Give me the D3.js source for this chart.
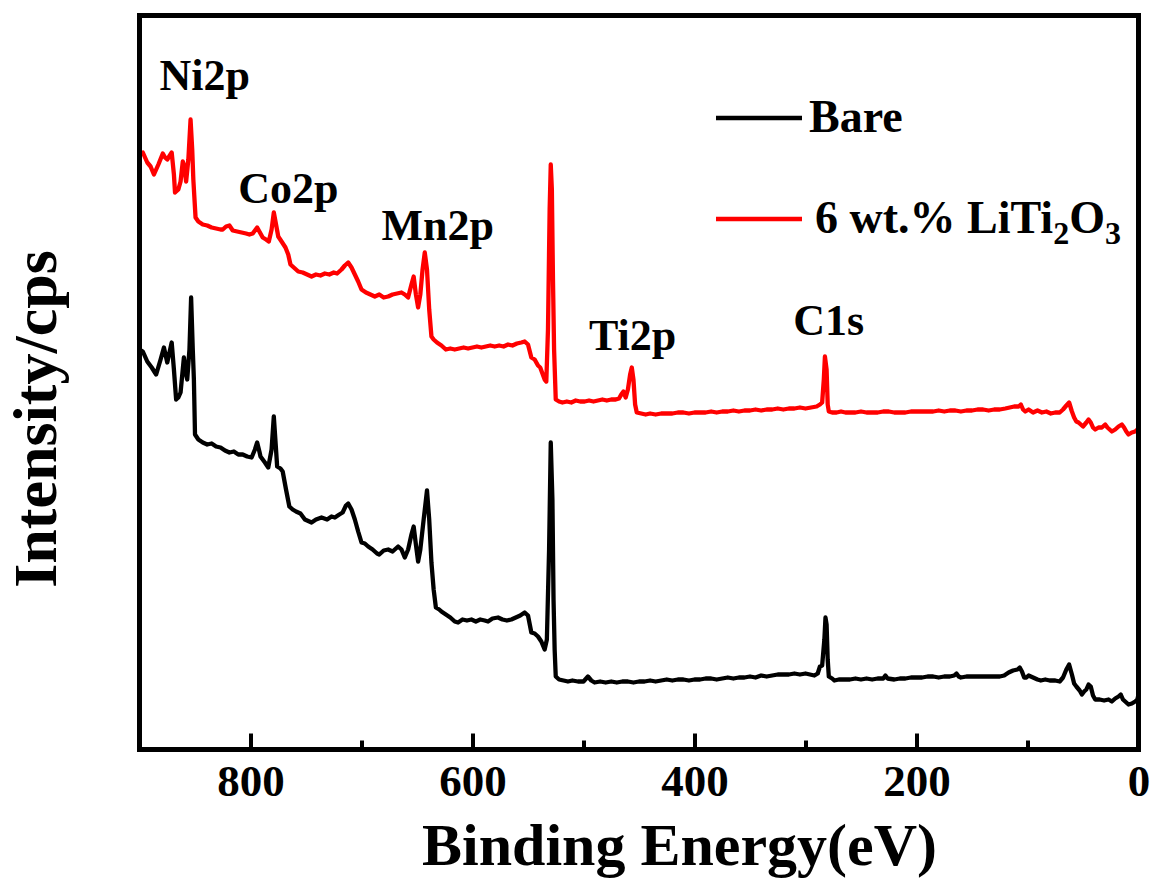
<!DOCTYPE html>
<html>
<head>
<meta charset="utf-8">
<script src="https://cdn.jsdelivr.net/npm/d3@7"></script>
<style>
  html, body { margin: 0; padding: 0; background: #fff; }
  svg { display: block; }
  text { font-family: "Liberation Serif", "Times New Roman", Times, serif; font-weight: bold; fill: #000; }
</style>
</head>
<body>
<svg id="chart" width="1154" height="879"></svg>
<script>
// ---- Data (binding energy in eV, intensity in arbitrary cps units, stacked offsets) ----
const bareSpectrum = [
  [900,400],[897,398],[893,388],[889,382],[885,375],[881,390],[878,402],[875,387],[871,407],[869,380],[867,350],[865,352],[863,357],[860,392],[858,375],[857,370],[855,400],[853.5,452],[852,400],[851,370],[850,315],[847,310],[843,307],[839,305],[835,306],[831,303],[827,302],[823,299],[819,297],[815,298],[811,295],[807,295],[803,293],[799,292],[796,300],[794,307],[792,298],[791,293],[787,287],[784,282],[781,300],[779,333],[777,300],[776,283],[773,281],[771,278],[768,260],[765,243],[762,240],[759,238],[755,236],[751,230],[747,228],[745,227],[741,230],[736,232],[731,230],[727,233],[724,232],[720,235],[717,237],[714,244],[712,246],[709,240],[706,230],[703,218],[700,207],[697,206],[694,203],[690,200],[686,196],[684,195],[680,199],[676,200],[672,198],[667,203],[664,200],[661,192],[658,200],[655,215],[653,223],[651,205],[649,188],[647,200],[644,230],[641,259],[639,230],[637,187],[635,160],[633,142],[630,140],[628,138],[624,135],[620,132],[616,128],[613,127],[609,130],[605,129],[601,130],[597,128],[593,130],[589,129],[586,128],[582,131],[577,132],[573,130],[569,129],[565,130],[561,132],[557,134],[553,137],[550,134],[547,117],[544,116],[541,113],[538,108],[535,100],[533,110],[531,200],[529.5,307],[528,250],[527,150],[526,100],[525,73],[522,70],[518,69],[514,68],[510,69],[505,68],[500,68],[496,73],[493,69],[490,67],[485,68],[480,67],[475,68],[470,67],[465,68],[460,68],[455,67],[450,68],[445,68],[440,69],[435,68],[430,69],[425,70],[420,69],[415,70],[410,70],[405,69],[400,70],[395,70],[390,71],[385,71],[380,70],[375,71],[370,72],[365,71],[360,72],[355,72],[350,73],[345,72],[340,74],[335,73],[330,74],[325,75],[320,75],[315,75],[310,76],[305,75],[300,76],[296,75],[292,74],[289,76],[287,83],[285,84],[283,110],[282,132],[281,125],[280,90],[279,73],[276,71],[274,69],[270,70],[265,70],[260,70],[255,71],[250,70],[245,71],[240,70],[235,71],[230,71],[228,74],[226,71],[220,70],[215,71],[210,71],[205,72],[200,72],[195,72],[190,73],[185,73],[180,72],[175,73],[170,73],[166,74],[164,76],[162,73],[160,72],[155,73],[150,73],[145,73],[140,73],[135,73],[130,73],[125,73],[121,74],[117,77],[113,79],[109,80],[107,82],[105,78],[103,72],[101,72],[99,74],[95,72],[91,70],[88,69],[84,70],[80,69],[75,69],[71,68],[68,72],[65,80],[62.5,85],[60,75],[58,66],[56,63],[53,59],[51,55],[49,58],[47,60],[45,65],[43,63],[41,54],[39,50],[35,50],[31,49],[27,50],[24,48],[21,51],[18,53],[16,55],[14,50],[11,47],[9,45],[6,46],[3,48],[1,50],[0,55]
];

const litiSpectrum = [
  [900,595],[897,597],[893,587],[890,583],[887,575],[883,585],[879,596],[877,592],[875,590],[871,597],[869,575],[868,557],[865,560],[863,568],[861,588],[860,585],[858,568],[856,590],[854,630],[852.5,600],[851.5,570],[849.5,532],[847,528],[843,525],[839,524],[835,522],[831,521],[827,520],[825,520],[822,523],[819,524],[816,519],[812,518],[808,517],[804,516],[801,515],[798,516],[794,522],[792,518],[789,512],[786,510],[783.5,508],[781,520],[779,537],[777,525],[775,513],[772,508],[768.5,502],[766,495],[764,485],[760,481],[757,478],[753,477],[749,475],[745,473],[741,475],[737,474],[733,476],[729,475],[725,477],[722,476],[718,480],[715,484],[712,487],[709,482],[706,475],[703,468],[700,460],[696,457],[692,455],[688,453],[684,455],[680,452],[676,453],[672,455],[668,456],[664,457],[661,455],[658,452],[655,465],[653,473],[651,455],[649,442],[647,455],[645,480],[643,497],[641,480],[639,440],[637,413],[635,410],[632,407],[628,404],[624,400],[620,401],[616,400],[612,401],[608,402],[604,401],[600,402],[596,403],[592,402],[588,403],[584,404],[580,403],[576,404],[572,403],[568,405],[564,404],[560,406],[556,407],[553,408],[550,405],[547,392],[544,390],[541,384],[539,382],[537,376],[535,370],[533.5,368],[532,420],[530.5,540],[529.5,585],[528.5,560],[527.5,470],[526.5,400],[525,350],[522,348],[519,347],[515,348],[511,347],[507,349],[503,348],[499,348],[495,349],[491,348],[487,349],[483,350],[479,349],[475,350],[471,350],[468,351],[466,355],[464,358],[462,352],[460,360],[458,375],[456.5,382],[455,370],[453.5,345],[452,337],[448,336],[444,335],[440,336],[435,335],[430,336],[425,336],[420,336],[415,337],[410,337],[405,336],[400,337],[395,337],[390,337],[385,338],[380,337],[375,338],[370,338],[365,339],[360,338],[355,339],[350,339],[345,340],[340,339],[335,340],[330,340],[325,341],[320,340],[315,341],[310,341],[305,342],[300,341],[295,342],[290,343],[287,345],[285,347],[283.5,370],[282.5,393],[281,380],[280,345],[279,338],[276,337],[272,337],[268,338],[264,337],[260,337],[255,337],[250,338],[245,337],[240,337],[235,337],[230,338],[225,338],[220,337],[215,337],[210,337],[205,338],[200,338],[195,338],[190,338],[185,338],[180,339],[175,338],[170,339],[165,339],[160,338],[155,339],[150,339],[145,340],[140,340],[135,339],[130,340],[125,340],[120,341],[116,342],[112,343],[108,343],[106,345],[104,340],[102,338],[99,340],[95,337],[91,339],[87,337],[83,338],[79,336],[75,337],[71,337],[68,340],[65,344],[62.5,347],[60,338],[58,332],[56,328],[54,327],[52,325],[50,323],[47,327],[45,330],[43,327],[41,322],[39,320],[36,322],[33,322],[30,325],[28,322],[26,320],[24,318],[21,320],[18,323],[15,325],[13,322],[11,318],[9,315],[6,317],[3,318],[1,320],[0,322]
];

const xMajorTicks = [800, 600, 400, 200, 0];
const xMinorTicks = [700, 500, 300, 100];

// peak annotations: [label, energy, intensity]
const peakLabels = [
  ["Ni2p", 882, 660],
  ["Co2p", 811, 547],
  ["Mn2p", 682, 510],
  ["Ti2p", 495, 400],
  ["C1s", 311, 415]
];

const seriesNames = ["Bare", "6 wt.% LiTi2O3"];
const seriesColors = ["#000000", "#ff0000"];

// ---- Layout ----
const svg = d3.select("#chart");
const margin = { left: 139.5, right: 1138.5, top: 15.5, bottom: 749.5 };

const x = d3.scaleLinear().domain([900, 0]).range([margin.left, margin.right]);
const y = d3.scaleLinear().domain([0, 734]).range([margin.bottom, margin.top]);

const FONT = "'Liberation Serif', 'Times New Roman', Times, serif";

// data lines
const line = d3.line().x(d => x(d[0])).y(d => y(d[1])).curve(d3.curveLinear);

const plot = svg.append("g");
[bareSpectrum, litiSpectrum].forEach((s, i) => {
  plot.append("path")
    .datum(s)
    .attr("d", line)
    .attr("fill", "none")
    .attr("stroke", seriesColors[i])
    .attr("stroke-width", 4.3)
    .attr("stroke-linejoin", "round")
    .attr("stroke-linecap", "round");
});

// x axis (ticks inside)
const xAxis = d3.axisBottom(x).tickValues(xMajorTicks).tickSize(-16).tickFormat(d3.format("d"));
const gx = svg.append("g").attr("transform", `translate(0,${margin.bottom})`).call(xAxis);
gx.select(".domain").remove();
gx.selectAll(".tick line").attr("stroke", "#000").attr("stroke-width", 4);
gx.selectAll(".tick text").attr("font-size", 45).attr("dy", 0).attr("y", 46)
  .style("font-family", FONT).style("font-weight", "bold");

const xAxisMinor = d3.axisBottom(x).tickValues(xMinorTicks).tickSize(-9).tickFormat("");
const gxm = svg.append("g").attr("transform", `translate(0,${margin.bottom})`).call(xAxisMinor);
gxm.select(".domain").remove();
gxm.selectAll(".tick line").attr("stroke", "#000").attr("stroke-width", 4);

// frame
svg.append("rect")
  .attr("x", margin.left).attr("y", margin.top)
  .attr("width", margin.right - margin.left).attr("height", margin.bottom - margin.top)
  .attr("fill", "none").attr("stroke", "#000").attr("stroke-width", 5);

// axis titles
svg.append("text")
  .attr("x", 422).attr("y", 865)
  .attr("font-size", 60)
  .text("Binding Energy(eV)");

svg.append("text")
  .attr("transform", "translate(56,419) rotate(-90)")
  .attr("text-anchor", "middle")
  .attr("font-size", 62)
  .text("Intensity/cps");

// peak labels
svg.append("g").selectAll("text").data(peakLabels).join("text")
  .attr("x", d => x(d[1]))
  .attr("y", d => y(d[2]))
  .attr("font-size", 44)
  .text(d => d[0]);

// legend
const legend = svg.append("g");
const legendRows = [118, 219];
const legendBaselines = [132, 233];
seriesNames.forEach((name, i) => {
  legend.append("line")
    .attr("x1", 716).attr("x2", 802)
    .attr("y1", legendRows[i]).attr("y2", legendRows[i])
    .attr("stroke", seriesColors[i]).attr("stroke-width", 4.3);
  const t = legend.append("text")
    .attr("x", i === 0 ? 809 : 815)
    .attr("y", legendBaselines[i])
    .attr("font-size", 46);
  if (i === 0) {
    t.text(name);
  } else {
    t.append("tspan").text("6 wt.% LiTi");
    t.append("tspan").attr("font-size", 32).attr("dy", 11).text("2");
    t.append("tspan").attr("dy", -11).text("O");
    t.append("tspan").attr("font-size", 32).attr("dy", 11).text("3");
  }
});
</script>
</body>
</html>
